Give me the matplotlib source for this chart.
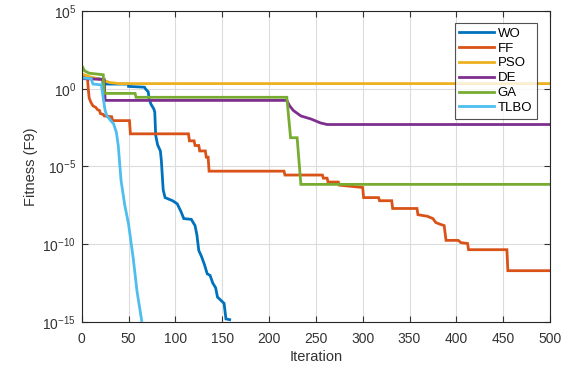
import numpy as np
import matplotlib
matplotlib.use("Agg")
import matplotlib.pyplot as plt
from matplotlib.ticker import FixedLocator, FuncFormatter

plt.rcParams['font.family'] = ['Liberation Sans', 'DejaVu Sans']
plt.rcParams['mathtext.fontset'] = 'custom'
plt.rcParams['mathtext.rm'] = 'Liberation Sans'

# breakpoints: iteration, log10(fitness)
wo_it = [0, 10, 22, 23, 50, 50, 67, 68, 71, 72, 74, 77, 78, 79, 81, 84, 85, 87, 89, 97, 102, 106, 109,
         117, 121, 123, 125, 128, 131, 134, 137, 140, 143, 145, 152, 154, 158]
wo_lg = [0.77, 0.7, 0.6, 0.3, 0.3, 0.15, 0.1, 0.0, -0.2, -0.65, -1.0, -1.3, -1.5, -3.0, -3.6, -4.0, -4.6,
         -6.5, -7.0, -7.2, -7.4, -7.9, -8.35, -8.4, -8.8, -9.4, -10.4, -10.8, -11.3, -11.9, -12.0, -12.5,
         -12.8, -13.4, -13.8, -14.8, -14.85]

ff_it = [0, 6, 7, 8, 10, 12, 15, 17, 19, 20, 23, 24, 32, 33, 51, 52, 114, 115, 120, 121, 125, 126, 132,
         133, 135, 136, 216, 217, 257, 258, 262, 263, 274, 275, 300, 301, 317, 318, 331, 332, 358, 359,
         369, 375, 378, 382, 387, 389, 402, 405, 412, 413, 454, 455, 500]
ff_lg = [0.85, 0.8, 0.0, -0.6, -0.9, -1.1, -1.2, -1.35, -1.4, -1.6, -1.65, -1.75, -1.8, -2.05, -2.05,
         -2.9, -2.9, -3.35, -3.35, -3.65, -3.65, -4.0, -4.0, -4.4, -4.4, -5.3, -5.3, -5.55, -5.55, -5.75,
         -5.75, -6.0, -6.0, -6.2, -6.35, -7.0, -7.0, -7.2, -7.2, -7.7, -7.7, -8.1, -8.2, -8.35, -8.6,
         -8.7, -8.8, -9.75, -9.75, -9.9, -9.95, -10.35, -10.35, -11.7, -11.7]

pso_it = [0, 10, 23, 30, 40, 500]
pso_lg = [0.95, 0.75, 0.55, 0.4, 0.33, 0.33]

de_it = [0, 24, 25, 219, 222, 226, 234, 245, 255, 262, 500]
de_lg = [0.65, 0.6, -0.75, -0.75, -1.1, -1.4, -1.75, -1.95, -2.2, -2.3, -2.3]

ga_it = [0, 3, 8, 23, 24, 57, 58, 219, 223, 230, 234, 500]
ga_lg = [1.5, 1.15, 1.0, 0.9, -0.3, -0.3, -0.55, -0.55, -3.15, -3.15, -6.15, -6.15]

tlbo_it = [0, 10, 12, 21, 23, 25, 27, 31, 34, 37, 39, 42, 46, 50, 55, 59, 64]
tlbo_lg = [0.7, 0.65, 0.3, 0.25, -0.6, -1.4, -1.75, -2.05, -2.25, -2.8, -3.65, -5.9, -7.5, -8.7, -10.9,
           -13.0, -14.9]

series = [("WO", wo_it, wo_lg, "#0072BD"),
          ("FF", ff_it, ff_lg, "#D95319"),
          ("PSO", pso_it, pso_lg, "#EDB120"),
          ("DE", de_it, de_lg, "#7E2F8E"),
          ("GA", ga_it, ga_lg, "#77AC30"),
          ("TLBO", tlbo_it, tlbo_lg, "#4DBEEE")]

fig = plt.figure(figsize=(5.69, 3.66), dpi=100)
ax = fig.add_axes([0.1436, 0.1202, 0.823, 0.8498])

for name, it, lg, c in series:
    ax.plot(it, 10.0 ** np.array(lg), color=c, lw=2.0, label=name, solid_joinstyle='miter')

ax.set_yscale('log')
ax.set_xlim(0, 500)
ax.set_ylim(1e-15, 1e5)
ax.xaxis.set_major_locator(FixedLocator(np.arange(0, 501, 50)))
ax.yaxis.set_major_locator(FixedLocator([1e-15, 1e-10, 1e-5, 1e0, 1e5]))
ax.yaxis.set_minor_locator(FixedLocator([]))
ax.yaxis.set_major_formatter(FuncFormatter(lambda v, p: r'$10^{%d}$' % int(round(np.log10(v)))))
ax.grid(True, color='#dcdcdc', lw=0.8)
ax.set_axisbelow(True)
ax.tick_params(direction='in', top=True, right=True, labelsize=10, colors='#333333', length=4, width=0.8)
ax.tick_params(axis='x', pad=7)
ax.tick_params(axis='y', pad=4)
for s in ax.spines.values():
    s.set_color('#262626')
    s.set_linewidth(0.8)

ax.set_xlabel('Iteration', fontsize=10.5, color='#333333', labelpad=3)
ax.set_ylabel('Fitness (F9)', fontsize=10.5, color='#333333', labelpad=3)

leg = ax.legend(loc='upper right', bbox_to_anchor=(0.9715, 0.962), fontsize=9.5, frameon=True,
                fancybox=False, edgecolor='#262626', handlelength=2.6, handletextpad=0.3,
                labelspacing=0.2, borderpad=0.35, borderaxespad=0.0)
leg.get_frame().set_linewidth(0.8)

fig.savefig('out.png', dpi=100)
